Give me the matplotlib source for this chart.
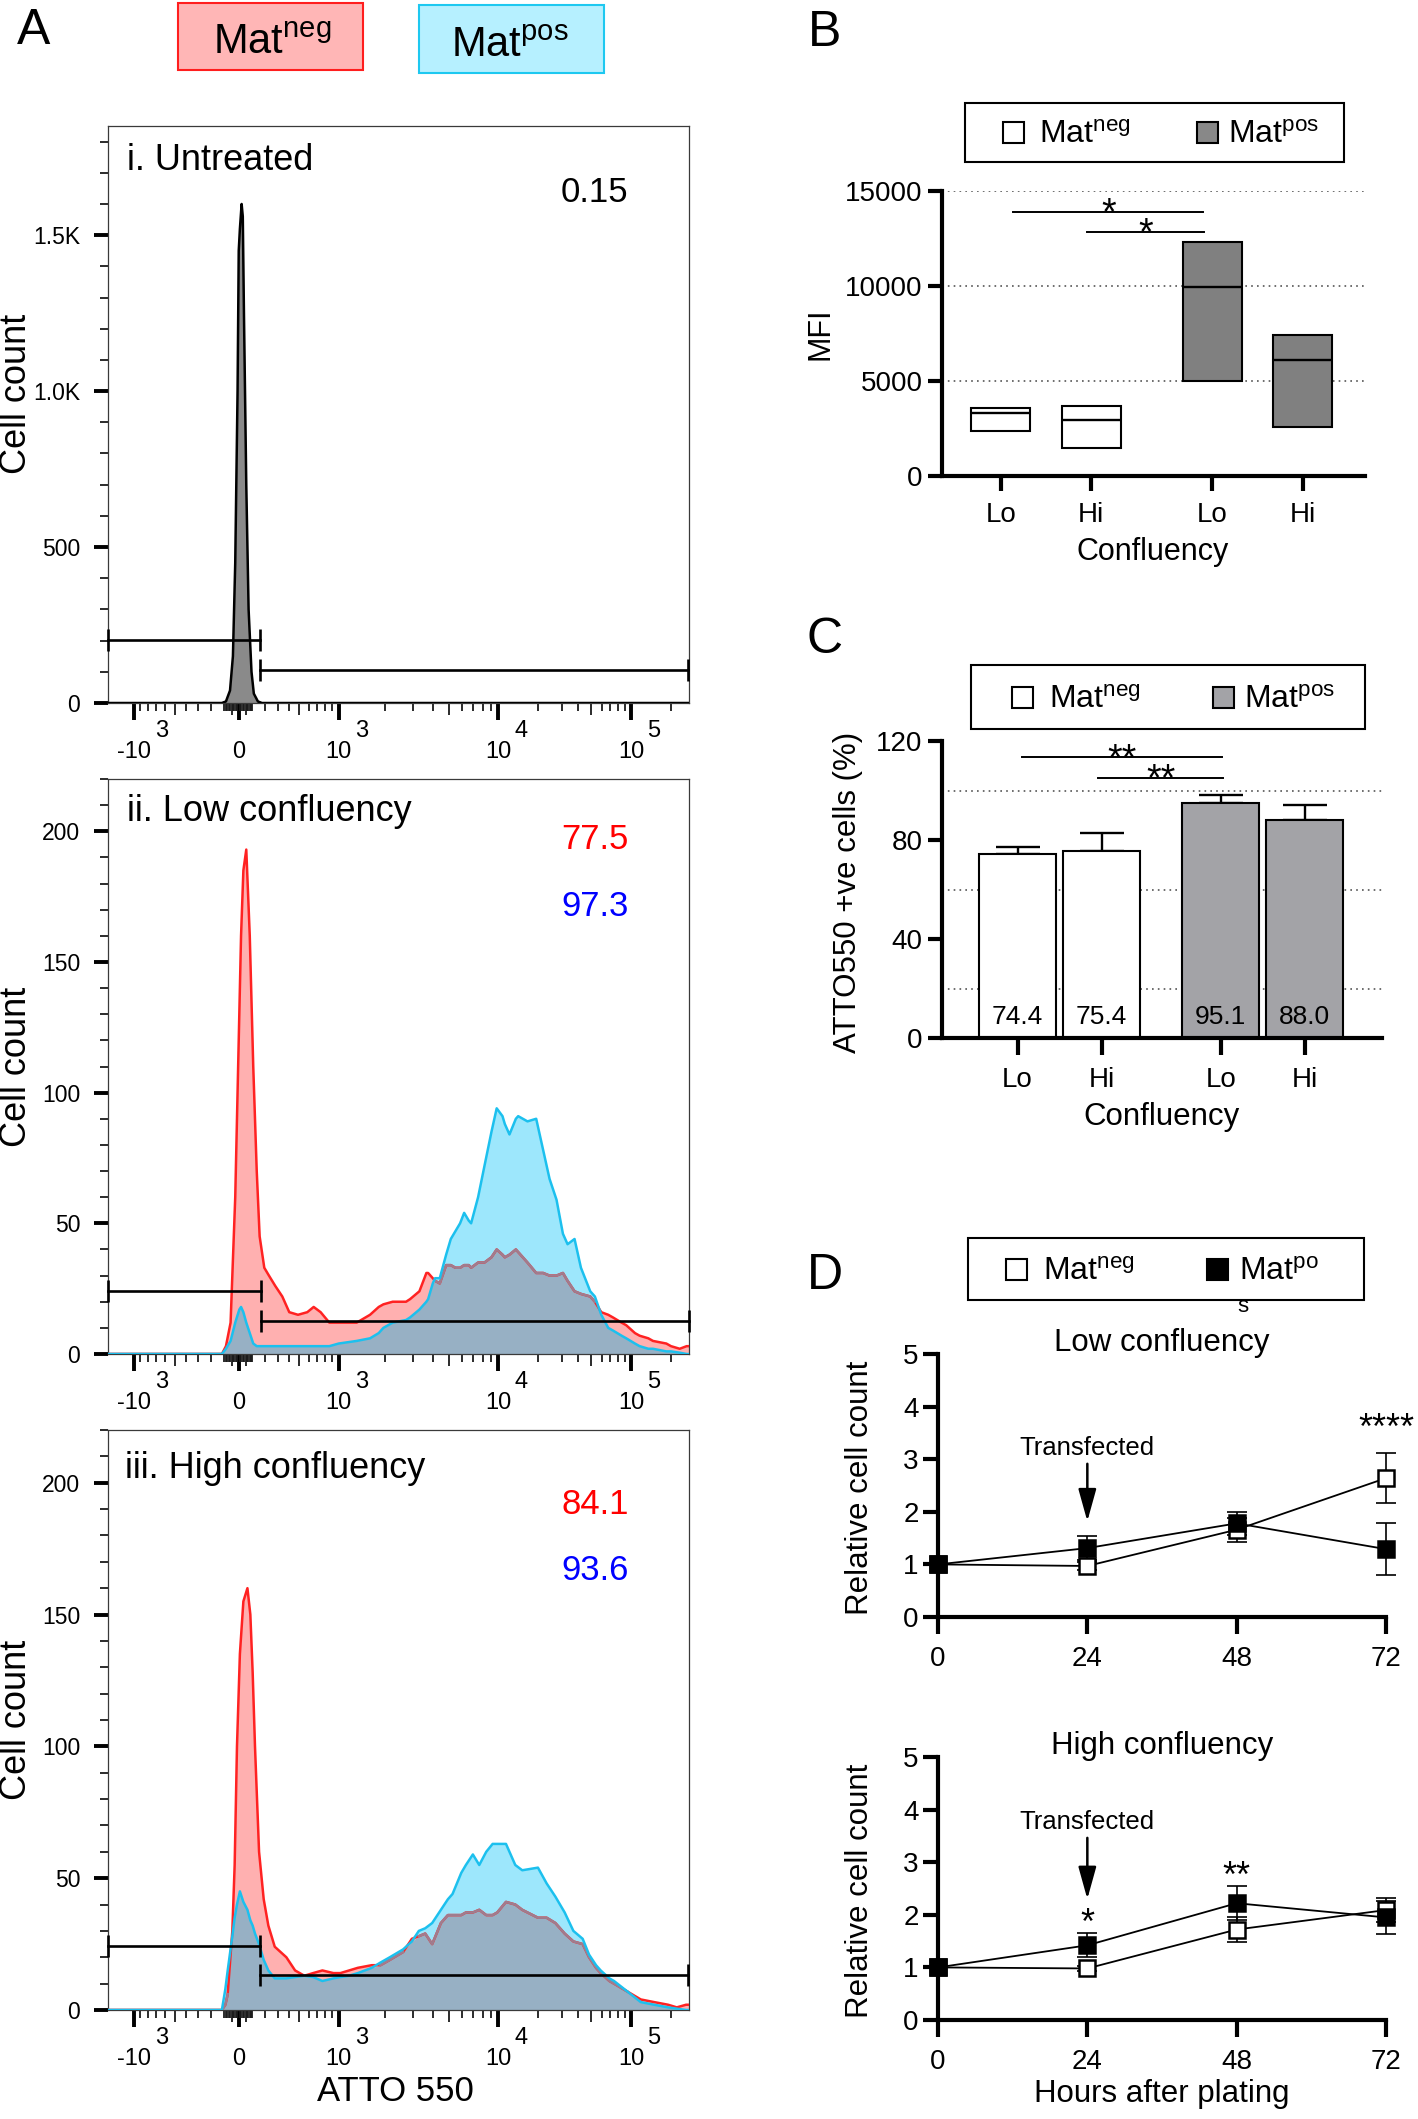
import numpy as np
import matplotlib
matplotlib.use("Agg")
import matplotlib.pyplot as plt
from matplotlib.patches import Rectangle

plt.rcParams["font.family"] = ["Liberation Sans", "DejaVu Sans"]
plt.rcParams["mathtext.fontset"] = "custom"
plt.rcParams["mathtext.rm"] = "Liberation Sans"
plt.rcParams["mathtext.it"] = "Liberation Sans:italic"
plt.rcParams["mathtext.bf"] = "Liberation Sans:bold"

# ======================= DATA =======================
# Panel A: flow histograms. x = display channel (0-1000 along the biexponential ATTO 550 axis)
UNT_CHANNEL = [0, 196, 203, 210, 215, 219, 223, 225, 227, 230, 232, 234, 238, 242, 247, 251, 258, 265, 1000]
UNT_COUNT = [0, 0, 5, 40, 150, 450, 1000, 1450, 1520, 1600, 1560, 1250, 700, 300, 100, 30, 5, 0, 0]

LOW_CHANNEL = [0, 196, 203, 211, 219, 226, 229, 233, 238, 244, 250, 256, 261, 269, 277, 288, 300, 312, 327, 343,
               354, 366, 381, 397, 428, 451, 466, 474, 490, 513, 520, 536, 548, 551, 559, 563, 571, 582, 590, 598,
               606, 613, 621, 625, 637, 648, 660, 669, 679, 683, 691, 702, 706, 722, 737, 749, 760, 772, 783, 791,
               803, 814, 830, 838, 849, 861, 869, 884, 892, 907, 915, 930, 938, 961, 969, 984, 996, 1000]
LOW_MATNEG = [0, 0, 3, 12, 60, 130, 160, 185, 193, 160, 110, 70, 45, 33, 30, 26, 22, 16, 15, 16,
              18, 16, 12, 12, 12, 15, 18, 19, 20, 20, 21, 24, 31, 31, 29, 28, 27, 34, 34, 33,
              33, 34, 34, 33, 35, 35, 37, 40, 38, 37, 38, 40, 39, 35, 31, 31, 30, 30, 31, 28,
              24, 23, 22, 20, 16, 15, 14, 12, 11, 8, 7, 6, 5, 4, 3, 2, 3, 3]
LOW_MATPOS = [0, 0, 2, 5, 12, 17, 18, 16, 12, 8, 4, 3, 3, 3, 3, 3, 3, 3, 3, 3,
              3, 3, 3, 4, 5, 6, 8, 10, 12, 13, 14, 17, 20, 21, 27, 29, 29, 38, 44, 47,
              50, 54, 51, 50, 60, 72, 85, 94, 91, 88, 84, 90, 91, 89, 90, 78, 67, 59, 46, 42,
              44, 33, 24, 22, 15, 10, 9, 7, 6, 4, 3, 2, 2, 1, 1, 0.5, 0, 0]

HIGH_CHANNEL = [0, 196, 202, 206, 214, 218, 222, 227, 233, 240, 245, 249, 253, 260, 268, 276, 287, 307, 322, 338,
                353, 369, 388, 400, 415, 430, 454, 469, 485, 508, 523, 535, 546, 558, 573, 585, 593, 608, 616, 628,
                639, 651, 662, 670, 685, 701, 713, 740, 755, 770, 786, 801, 817, 828, 840, 848, 863, 871, 894, 917,
                940, 964, 979, 995, 1000]
HIGH_MATNEG = [0, 0, 2, 6, 30, 55, 100, 135, 155, 160, 150, 128, 100, 60, 42, 32, 24, 20, 15, 13,
               14, 15, 14, 14, 15, 16, 17, 17, 19, 22, 27, 28, 29, 25, 33, 36, 36, 36, 37, 37,
               38, 36, 36, 37, 41, 40, 38, 35, 35, 33, 29, 26, 25, 20, 16, 14, 11, 10, 7, 4,
               3, 2, 1, 2, 2]
HIGH_MATPOS = [0, 0, 8, 15, 28, 35, 40, 45, 41, 38, 34, 32, 29, 25, 19, 15, 12, 12, 12.5, 13,
               12.5, 11, 12, 12.5, 13, 14, 16, 18, 20, 23, 26, 30, 31, 33, 38, 42, 44, 52, 55, 59,
               55, 60, 63, 63, 63, 55, 53, 54, 48, 43, 37, 30, 27, 21, 17, 15, 12, 11, 7, 3,
               2, 1, 0.5, 0, 0]

# gates: (start channel, end channel, height in counts)
GATES_UNT = [(0, 261, 203), (261, 998, 107)]
GATES_LOW = [(0, 263, 24), (263, 1000, 12.7)]
GATES_HIGH = [(0, 262, 24.4), (262, 998, 13.4)]

PCT_UNT = "0.15"
PCT_LOW = ["77.5", "97.3"]
PCT_HIGH = ["84.1", "93.6"]

# biexponential axis definition
AXIS_DECADES = [-1e3, 0, 1e3, 1e4, 1e5]
DECADE_CHANNEL = [44, 225, 397, 672, 900]
AXIS_DECADE_LABELS = ["-10", "0", "10", "10", "10"]
AXIS_DECADE_EXP = ["3", "", "3", "4", "5"]

# Panel B: MFI floating bars (min, max, mean)
CONFLUENCY = ["Lo", "Hi", "Lo", "Hi"]
MFI_MIN = [2360, 1480, 4990, 2590]
MFI_MAX = [3600, 3700, 12330, 7420]
MFI_MEAN = [3310, 2960, 9930, 6110]
SIG_B = [(0.14, 2.24, 13890, "*"), (0.95, 2.25, 12860, "*")]

# Panel C: % ATTO550+ cells
PCT_MEAN = [74.4, 75.4, 95.1, 88.0]
PCT_ERR = [2.6, 7.5, 2.9, 6.0]
SIG_C = [(0.05, 2.43, 113.4, "**"), (0.96, 2.45, 105.0, "**")]

# Panel D: relative cell counts
HOURS = [0, 24, 48, 72]
LOW_NEG = [1.0, 0.97, 1.66, 2.64]
LOW_NEG_ERR = [0, 0.08, 0.23, 0.48]
LOW_POS = [1.0, 1.31, 1.78, 1.29]
LOW_POS_ERR = [0, 0.23, 0.22, 0.50]
HIGH_NEG = [1.0, 0.98, 1.72, 2.09]
HIGH_NEG_ERR = [0, 0.05, 0.23, 0.22]
HIGH_POS = [1.0, 1.42, 2.22, 1.95]
HIGH_POS_ERR = [0, 0.23, 0.32, 0.31]
SIG_D_LOW = [(72, 3.76, "****")]
SIG_D_HIGH = [(24, 2.0, "*"), (48, 2.9, "**")]

# ======================= FIGURE =======================
W, H = 1418, 2119
fig = plt.figure(figsize=(W / 100, H / 100), dpi=100)

PINK = "#FFB0B0"
RED = "#FF2222"
CYAN = "#9DE7FC"
BLUE = "#1CC0EE"
OVERLAP = "#97B0C4"
MAUVE = "#A07C8E"


def add_ax(x0, y0, x1, y1):
    return fig.add_axes([x0 / W, 1 - y1 / H, (x1 - x0) / W, (y1 - y0) / H])


def fig_text(x, y, s, **kw):
    return fig.text(x / W, 1 - y / H, s, **kw)


def fig_rect(x0, y0, x1, y1, **kw):
    r = Rectangle((x0 / W, 1 - y1 / H), (x1 - x0) / W, (y1 - y0) / H, transform=fig.transFigure, **kw)
    fig.add_artist(r)
    return r


def biex_channel(values):
    v = np.atleast_1d(np.asarray(values, float))
    u = np.arcsinh(v / 520.0)
    ua = np.arcsinh(np.asarray(AXIS_DECADES, float) / 520.0)
    ca = np.asarray(DECADE_CHANNEL, float)
    out = np.interp(u, ua, ca)
    lo = u < ua[0]
    out[lo] = ca[0] + (u[lo] - ua[0]) * (ca[1] - ca[0]) / (ua[1] - ua[0])
    hi = u > ua[-1]
    out[hi] = ca[-1] + (u[hi] - ua[-1]) * (ca[-1] - ca[-2]) / (ua[-1] - ua[-2])
    return out


_mv = []
for s in (-1, 1):
    for d in range(1, 6):
        for k in range(1, 10):
            val = s * k * 10 ** d
            if val in AXIS_DECADES:
                continue
            _mv.append(val)
_mv = np.array(_mv, float)
_mc = biex_channel(_mv)
_keep = (_mc > 0) & (_mc < 1000)
_order = np.argsort(_mc[_keep])
MINOR_VALS = _mv[_keep][_order]
MINOR_CH = _mc[_keep][_order]


def flow_axes(rect, ymax, ymajor, ylabels, yminor_step, label_y):
    ax = add_ax(*rect)
    ax.set_xlim(0, 1000)
    ax.set_ylim(0, ymax)
    for sp in ax.spines.values():
        sp.set_color("#3a3a3a")
        sp.set_linewidth(0.9)
    major_ch = biex_channel(AXIS_DECADES)
    ax.set_xticks(major_ch)
    ax.set_xticklabels(AXIS_DECADE_LABELS)
    ax.set_xticks(MINOR_CH, minor=True)
    ax.set_yticks(ymajor)
    ax.set_yticklabels(ylabels)
    ax.set_yticks(np.arange(0, ymax + 1, yminor_step), minor=True)
    ax.tick_params(axis="x", which="major", direction="out", length=12, width=2.8, pad=23,
                   labelsize=17, color="black")
    ax.tick_params(axis="y", which="major", direction="out", length=10, width=2.8, pad=10,
                   labelsize=16.5, color="black")
    ax.tick_params(axis="both", which="minor", direction="out", length=5.5, width=1.3, color="#1a1a1a")
    for lab in ax.get_xticklabels():
        lab.set_va("center")
    for t, v in zip(ax.xaxis.get_minor_ticks(len(MINOR_CH)), MINOR_VALS):
        if abs(v) in (50, 500, 5000, 50000):
            t.tick1line.set_markersize(8.5)
    for ch, e, lab in zip(major_ch, AXIS_DECADE_EXP, AXIS_DECADE_LABELS):
        if e:
            dx = 20 if lab.startswith("-") else 16.5
            ax.annotate(e, xy=(ch, 0), xycoords=("data", "axes fraction"), xytext=(dx, -20),
                        textcoords="offset points", ha="center", va="center", fontsize=17,
                        annotation_clip=False)
    ax.set_ylabel("Cell count", fontsize=26)
    ax.yaxis.label.set_va("center")
    ax.yaxis.set_label_coords(-0.158, label_y)
    return ax


def draw_gates(ax, gates):
    for x0, x1, y in gates:
        ax.plot([x0, x1], [y, y], color="black", lw=1.9, marker="|", ms=16, mew=1.9,
                clip_on=False, zorder=6)


def draw_overlay(ax, ch, neg, pos):
    ch = np.asarray(ch, float)
    neg = np.asarray(neg, float)
    pos = np.asarray(pos, float)
    ax.fill_between(ch, 0, pos, color=CYAN, lw=0, zorder=1)
    ax.fill_between(ch, 0, neg, color=PINK, lw=0, zorder=1.5)
    ax.fill_between(ch, 0, np.minimum(neg, pos), color=OVERLAP, lw=0, zorder=2)
    ax.plot(ch, neg, color=RED, lw=1.8, zorder=3)
    under = np.where(neg <= pos, neg, np.nan)
    ax.plot(ch, under, color=MAUVE, lw=1.8, zorder=3.5)
    ax.plot(ch, pos, color=BLUE, lw=1.8, zorder=4)


# ---------------- Panel A ----------------
fig_text(34, 31, "A", fontsize=36, ha="center", va="center")
fig_rect(178, 3, 363, 70, facecolor="#FFB6B6", edgecolor="#FF1E1E", lw=1.5)
fig_rect(419, 5, 604, 73, facecolor="#B6F0FF", edgecolor="#1EC8F0", lw=1.5)
fig_text(272, 54, r"$\mathrm{Mat}^{\mathrm{neg}}$", fontsize=30, ha="center", va="baseline")
fig_text(510, 57, r"$\mathrm{Mat}^{\mathrm{pos}}$", fontsize=30, ha="center", va="baseline")

ax1 = flow_axes((108, 126, 689, 703), 1850, [0, 500, 1000, 1500], ["0", "500", "1.0K", "1.5K"], 100, 0.535)
ax1.fill_between(UNT_CHANNEL, 0, UNT_COUNT, color="#8A8A8A", lw=0, zorder=1)
ax1.plot(UNT_CHANNEL, UNT_COUNT, color="black", lw=1.8, zorder=3)
draw_gates(ax1, GATES_UNT)
ax1.text(0.033, 0.94, "i. Untreated", transform=ax1.transAxes, fontsize=26, ha="left", va="center")
ax1.text(0.838, 0.885, PCT_UNT, transform=ax1.transAxes, fontsize=25, ha="center", va="center")

ax2 = flow_axes((108, 779, 689, 1354), 220, [0, 50, 100, 150, 200], ["0", "50", "100", "150", "200"], 10, 0.5)
draw_overlay(ax2, LOW_CHANNEL, LOW_MATNEG, LOW_MATPOS)
draw_gates(ax2, GATES_LOW)
ax2.text(0.033, 0.944, "ii. Low confluency", transform=ax2.transAxes, fontsize=26, ha="left", va="center")
ax2.text(0.838, 0.895, PCT_LOW[0], transform=ax2.transAxes, fontsize=25, ha="center", va="center", color="#FF0000")
ax2.text(0.838, 0.778, PCT_LOW[1], transform=ax2.transAxes, fontsize=25, ha="center", va="center", color="#0000FF")

ax3 = flow_axes((108, 1430, 689, 2010), 220, [0, 50, 100, 150, 200], ["0", "50", "100", "150", "200"], 10, 0.5)
draw_overlay(ax3, HIGH_CHANNEL, HIGH_MATNEG, HIGH_MATPOS)
draw_gates(ax3, GATES_HIGH)
ax3.text(0.03, 0.934, "iii. High confluency", transform=ax3.transAxes, fontsize=26, ha="left", va="center")
ax3.text(0.838, 0.872, PCT_HIGH[0], transform=ax3.transAxes, fontsize=25, ha="center", va="center", color="#FF0000")
ax3.text(0.838, 0.757, PCT_HIGH[1], transform=ax3.transAxes, fontsize=25, ha="center", va="center", color="#0000FF")
ax3.set_xlabel("ATTO 550", fontsize=25)
ax3.xaxis.label.set_va("center")
ax3.xaxis.set_label_coords(0.494, -0.14)


# ---------------- common style for B/C/D ----------------
def prism_axes(ax, xpad=7, ypad=4, xlen=10, ylen=10, size=20):
    for side in ("top", "right"):
        ax.spines[side].set_visible(False)
    for side in ("left", "bottom"):
        ax.spines[side].set_linewidth(3)
    ax.tick_params(axis="x", direction="out", length=xlen, width=3, pad=xpad, labelsize=size)
    ax.tick_params(axis="y", direction="out", length=ylen, width=3, pad=ypad, labelsize=size)


def legend_box(box, entries, fontsize, sq=21):
    x0, y0, x1, y1 = box
    fig_rect(x0, y0, x1, y1, fill=False, edgecolor="black", lw=1.5)
    cy = (y0 + y1) / 2
    base = y0 + 0.67 * (y1 - y0)
    for sx, face, tx, label in entries:
        fig_rect(sx, cy - sq / 2, sx + sq, cy + sq / 2, facecolor=face, edgecolor="black", lw=1.5)
        fig_text(tx, base, label, fontsize=fontsize, ha="left", va="baseline")


NEG_LABEL = r"$\mathrm{Mat}^{\mathrm{neg}}$"
POS_LABEL = r"$\mathrm{Mat}^{\mathrm{pos}}$"

# ---------------- Panel B ----------------
fig_text(825, 33, "B", fontsize=36, ha="center", va="center")
legend_box((965, 103, 1344, 162), [(1003, "white", 1039, NEG_LABEL), (1197, "#888888", 1228, POS_LABEL)], 23)
POS_B = [0, 1, 2.34, 3.34]
axB = add_ax(942, 191, 1365, 476)
axB.set_xlim(-0.65, 4.03)
axB.set_ylim(0, 15000)
for g in (5000, 10000, 15000):
    axB.axhline(g, color="#555555", lw=1.2, ls=(0, (1, 2.5)), zorder=0)
b_colors = ["white", "white", "#808080", "#808080"]
axB.bar(POS_B, np.array(MFI_MAX) - np.array(MFI_MIN), bottom=MFI_MIN, width=0.65, color=b_colors,
        edgecolor="black", linewidth=1.5, zorder=2)
axB.hlines(MFI_MEAN, np.array(POS_B) - 0.325, np.array(POS_B) + 0.325, color="black", lw=1.7, zorder=3)
for x0, x1, y, s in SIG_B:
    axB.plot([x0, x1], [y, y], color="black", lw=1.4)
    axB.annotate(s, xy=((x0 + x1) / 2, y), xytext=(0, -9), textcoords="offset points",
                 ha="center", va="baseline", fontsize=27)
axB.set_xticks(POS_B)
axB.set_xticklabels(CONFLUENCY)
axB.set_yticks([0, 5000, 10000, 15000])
prism_axes(axB, xpad=8, xlen=11)
axB.set_ylabel("MFI", fontsize=22)
axB.yaxis.label.set_va("center")
axB.yaxis.set_label_coords(-0.288, 0.5)
axB.set_xlabel("Confluency", fontsize=22)
axB.xaxis.label.set_va("center")
axB.xaxis.set_label_coords(0.499, -0.265)

# ---------------- Panel C ----------------
fig_text(825, 640, "C", fontsize=36, ha="center", va="center")
legend_box((971, 665, 1365, 729), [(1012, "white", 1049, NEG_LABEL), (1213, "#A3A3A7", 1244, POS_LABEL)], 23)
POS_C = [0, 1, 2.42, 3.42]
axC = add_ax(942, 741, 1382, 1038)
axC.set_xlim(-0.9, 4.34)
axC.set_ylim(0, 120)
for g in (20, 60, 100):
    axC.axhline(g, color="#555555", lw=1.2, ls=(0, (1, 2.5)), zorder=0)
c_colors = ["white", "white", "#A3A3A7", "#A3A3A7"]
axC.errorbar(POS_C, PCT_MEAN, yerr=[np.zeros(len(PCT_ERR)), PCT_ERR], fmt="none", ecolor="black",
             elinewidth=1.7, capsize=16, capthick=1.7, zorder=1)
axC.bar(POS_C, PCT_MEAN, width=0.92, color=c_colors, edgecolor="black", linewidth=1.5, zorder=2)
for p, m in zip(POS_C, PCT_MEAN):
    axC.text(p, 8.5, f"{m:.1f}", ha="center", va="center", fontsize=19, zorder=3)
for x0, x1, y, s in SIG_C:
    axC.plot([x0, x1], [y, y], color="black", lw=1.4)
    axC.annotate(s, xy=((x0 + x1) / 2, y), xytext=(0, -9), textcoords="offset points",
                 ha="center", va="baseline", fontsize=27)
axC.set_xticks(POS_C)
axC.set_xticklabels(CONFLUENCY)
axC.set_yticks([0, 40, 80, 120])
prism_axes(axC, xpad=9, xlen=12)
axC.set_ylabel("ATTO550 +ve cells (%)", fontsize=22.5)
axC.yaxis.label.set_va("center")
axC.yaxis.set_label_coords(-0.214, 0.49)
axC.set_xlabel("Confluency", fontsize=22.5)
axC.xaxis.label.set_va("center")
axC.xaxis.set_label_coords(0.499, -0.265)

# ---------------- Panel D ----------------
fig_text(825, 1276, "D", fontsize=36, ha="center", va="center")
legend_box((968, 1238, 1364, 1300), [(1006, "white", 1043, NEG_LABEL),
                                     (1207, "black", 1239, r"$\mathrm{Mat}^{\mathrm{po}}$")], 23)
fig_text(1243, 1306, "s", fontsize=16, ha="center", va="center")


def growth_axes(rect, title, neg, neg_err, pos, pos_err, sigs, text_y, tip_y, xlabel=None):
    ax = add_ax(*rect)
    ax.set_xlim(0, 72)
    ax.set_ylim(0, 5)
    ax.errorbar(HOURS, neg, yerr=neg_err, fmt="none", ecolor="black", elinewidth=1.2,
                capsize=7.5, capthick=1.2, zorder=2, clip_on=False)
    ax.errorbar(HOURS, pos, yerr=pos_err, fmt="none", ecolor="black", elinewidth=1.2,
                capsize=7.5, capthick=1.2, zorder=2, clip_on=False)
    ax.plot(HOURS, neg, color="black", lw=1.3, marker="s", ms=12, mfc="white", mec="black",
            mew=1.8, zorder=3, clip_on=False)
    ax.plot(HOURS, pos, color="black", lw=1.3, marker="s", ms=12, mfc="black", mec="black",
            mew=1.8, zorder=4, clip_on=False)
    for x, y, s in sigs:
        ax.annotate(s, xy=(x, y), xytext=(0, -14), textcoords="offset points",
                    ha="center", va="baseline", fontsize=26, annotation_clip=False)
    ax.annotate("Transfected", xy=(24, tip_y), xytext=(24, text_y), ha="center", va="center",
                fontsize=18.5,
                arrowprops=dict(arrowstyle="-|>,head_length=0.9,head_width=0.25", color="black",
                                lw=1.8, mutation_scale=22, shrinkA=1, shrinkB=0))
    ax.set_xticks(HOURS)
    ax.set_yticks([0, 1, 2, 3, 4, 5])
    prism_axes(ax, xpad=9, ypad=3.5, xlen=12, ylen=10.5, size=20)
    ax.text(0.5, 1.04, title, transform=ax.transAxes, ha="center", va="center", fontsize=22.5)
    ax.set_ylabel("Relative cell count", fontsize=22.5)
    ax.yaxis.label.set_va("center")
    ax.yaxis.set_label_coords(-0.174, 0.49)
    if xlabel:
        ax.set_xlabel(xlabel, fontsize=22.5)
        ax.xaxis.label.set_va("center")
        ax.xaxis.set_label_coords(0.5, -0.28)
    return ax


growth_axes((938, 1354, 1386, 1617), "Low confluency", LOW_NEG, LOW_NEG_ERR, LOW_POS, LOW_POS_ERR,
            SIG_D_LOW, 3.22, 1.82)
growth_axes((938, 1757, 1386, 2020), "High confluency", HIGH_NEG, HIGH_NEG_ERR, HIGH_POS, HIGH_POS_ERR,
            SIG_D_HIGH, 3.77, 2.3, xlabel="Hours after plating")

fig.savefig("out.png", dpi=100)
